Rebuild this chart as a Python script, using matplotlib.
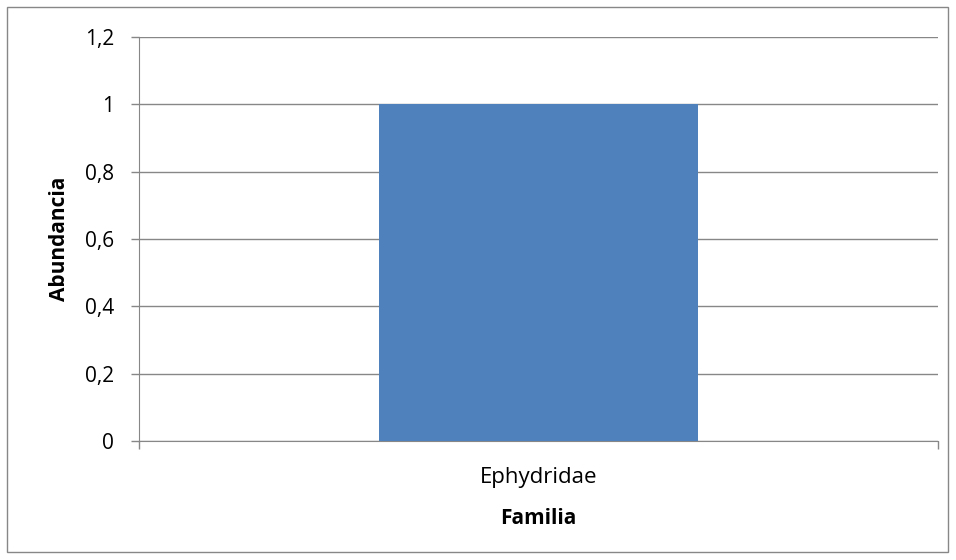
import matplotlib.pyplot as plt
from matplotlib.patches import Rectangle
from matplotlib.ticker import FuncFormatter

familias = ['Ephydridae']
abundancia = [1]
yticks = [0, 0.2, 0.4, 0.6, 0.8, 1, 1.2]

plt.rcParams['font.family'] = ['Open Sans', 'DejaVu Sans']

fig = plt.figure(figsize=(9.56, 5.6), dpi=100)
ax = fig.add_axes([139 / 956, 119 / 560, 799 / 956, 404 / 560])

ax.bar(range(len(familias)), abundancia, width=0.4, color='#4f81bd', zorder=3)

ax.set_xlim(-0.5, len(familias) - 0.5)
ax.set_ylim(0, 1.2)
ax.set_yticks(yticks)
ax.yaxis.set_major_formatter(FuncFormatter(lambda v, p: ('%g' % v).replace('.', ',')))
ax.grid(axis='y', color='#878787', linewidth=1, zorder=0)

# category boundary ticks on the x axis, labels centred
ax.set_xticks([-0.5, 0.5], minor=False)
ax.set_xticklabels([])
ax.set_xticks(range(len(familias)), minor=True)
ax.set_xticklabels(familias, minor=True)
ax.tick_params(axis='x', which='major', length=5.8, color='#878787', width=1)
ax.tick_params(axis='x', which='minor', length=0, pad=19, labelsize=16)
ax.tick_params(axis='y', length=5.8, color='#878787', width=1, pad=12, labelsize=15)

for s in ['top', 'right']:
    ax.spines[s].set_visible(False)
for s in ['left', 'bottom']:
    ax.spines[s].set_color('#878787')

ax.set_xlabel('Familia', fontsize=15, fontweight='bold')
ax.set_ylabel('Abundancia', fontsize=15, fontweight='bold')
ax.xaxis.set_label_coords(0.5, -0.165)
ax.yaxis.set_label_coords(-0.086, 0.5)

fig.patches.append(Rectangle((7 / 956, 8 / 560), 941 / 956, 545 / 560,
                             transform=fig.transFigure, fill=False,
                             edgecolor='#878787', linewidth=1))

fig.savefig('out.png', dpi=100)
